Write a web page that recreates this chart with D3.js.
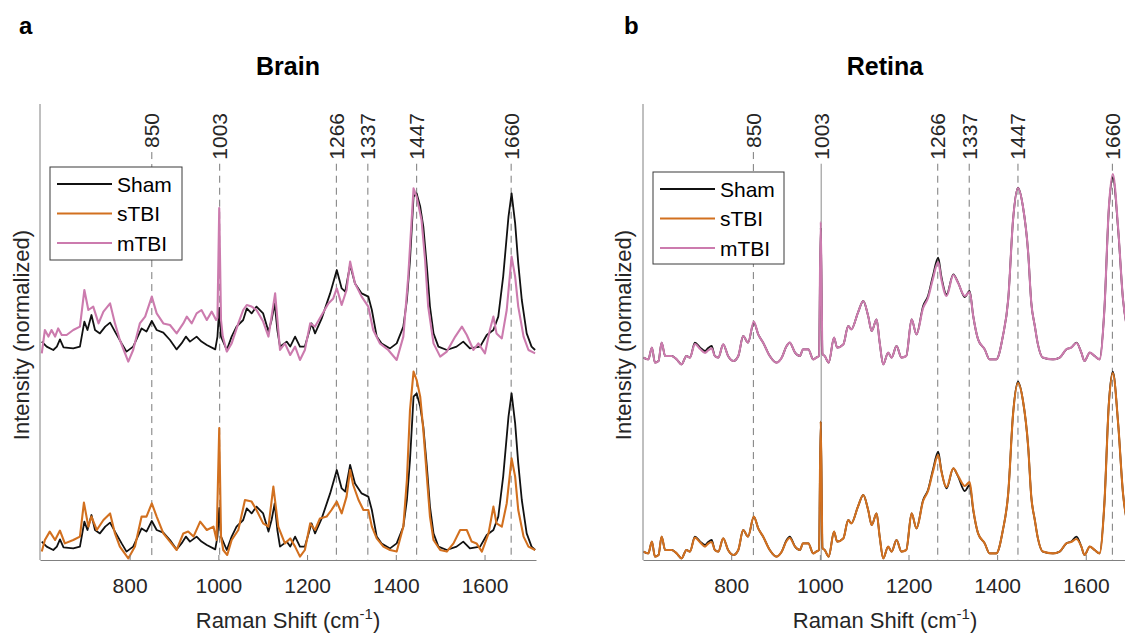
<!DOCTYPE html>
<html>
<head>
<meta charset="utf-8">
<script src="https://cdn.jsdelivr.net/npm/d3@7"></script>
<style>
  html, body { margin: 0; padding: 0; background: #fff; }
  svg { display: block; font-family: "Liberation Sans", Arial, Helvetica, sans-serif; }
</style>
</head>
<body>
<svg id="fig" width="1125" height="633"></svg>
<script>
// Raman shift (cm^-1) and normalized intensity, one [shift, intensity] pair per point.
const brainSham = [[602,0.092],[613,0.067],[628,0.05],[636,0.067],[643,0.103],[651,0.063],[673,0.058],[688,0.067],[698,0.192],[705,0.15],[714,0.225],[722,0.15],[733,0.133],[745,0.167],[756,0.187],[767,0.142],[782,0.083],[793,0.042],[808,0.067],[827,0.158],[838,0.142],[850,0.195],[861,0.15],[876,0.137],[891,0.1],[906,0.053],[917,0.083],[927,0.117],[936,0.092],[951,0.117],[962,0.092],[974,0.075],[993,0.053],[998,0.117],[1002,0.26],[1006,0.117],[1019,0.05],[1030,0.117],[1041,0.167],[1056,0.2],[1064,0.258],[1075,0.233],[1086,0.267],[1101,0.233],[1113,0.142],[1120,0.2],[1127,0.283],[1133,0.15],[1139,0.067],[1154,0.092],[1162,0.067],[1173,0.117],[1184,0.067],[1195,0.067],[1210,0.183],[1218,0.133],[1233,0.208],[1252,0.333],[1267,0.45],[1278,0.358],[1286,0.342],[1297,0.475],[1308,0.383],[1323,0.333],[1338,0.317],[1346,0.25],[1357,0.117],[1368,0.083],[1387,0.058],[1402,0.083],[1417,0.167],[1425,0.3],[1432,0.5],[1440,0.817],[1447,0.833],[1455,0.767],[1462,0.667],[1470,0.467],[1477,0.267],[1485,0.133],[1496,0.067],[1515,0.05],[1537,0.067],[1552,0.092],[1567,0.058],[1590,0.067],[1605,0.125],[1620,0.15],[1631,0.217],[1642,0.417],[1654,0.717],[1661,0.833],[1669,0.683],[1676,0.483],[1684,0.3],[1695,0.133],[1706,0.067],[1714,0.05]];

const brainMTBI = [[602,0.033],[609,0.15],[617,0.117],[624,0.15],[632,0.117],[639,0.158],[647,0.125],[658,0.125],[673,0.15],[688,0.167],[698,0.35],[707,0.25],[718,0.267],[730,0.183],[741,0.242],[756,0.283],[767,0.183],[778,0.1],[797,-0.008],[808,0.05],[823,0.183],[835,0.217],[850,0.317],[861,0.233],[876,0.183],[891,0.175],[906,0.133],[921,0.183],[929,0.217],[940,0.183],[951,0.233],[962,0.25],[974,0.2],[985,0.242],[995,0.2],[998,0.21],[1002,0.76],[1006,0.2],[1010,0.117],[1019,0.042],[1030,0.083],[1045,0.183],[1056,0.25],[1064,0.275],[1075,0.267],[1086,0.25],[1101,0.192],[1113,0.117],[1128,0.333],[1139,0.05],[1150,0.083],[1162,0.025],[1173,0.067],[1184,0.0],[1195,0.05],[1207,0.183],[1218,0.167],[1233,0.225],[1248,0.283],[1259,0.308],[1267,0.358],[1278,0.275],[1289,0.35],[1297,0.492],[1308,0.383],[1323,0.317],[1338,0.267],[1349,0.15],[1364,0.083],[1383,0.05],[1402,0.0],[1417,0.117],[1428,0.417],[1440,0.858],[1447,0.817],[1458,0.7],[1466,0.5],[1473,0.267],[1485,0.083],[1500,0.017],[1515,0.042],[1534,0.117],[1549,0.167],[1560,0.125],[1575,0.05],[1586,0.083],[1601,0.033],[1612,0.15],[1620,0.217],[1627,0.133],[1639,0.108],[1650,0.25],[1661,0.517],[1669,0.417],[1676,0.267],[1688,0.117],[1699,0.05],[1714,0.033]];

const brainSTBI = [[602,0.042],[609,0.1],[620,0.142],[632,0.1],[643,0.147],[654,0.083],[673,0.1],[688,0.117],[697,0.287],[707,0.167],[714,0.217],[726,0.15],[741,0.2],[756,0.233],[767,0.133],[778,0.067],[797,0.008],[812,0.067],[827,0.217],[838,0.217],[850,0.283],[861,0.217],[876,0.133],[891,0.092],[906,0.05],[921,0.133],[932,0.142],[944,0.117],[959,0.192],[974,0.15],[989,0.167],[996,0.1],[1002,0.66],[1006,0.12],[1011,0.05],[1020,0.025],[1030,0.1],[1045,0.15],[1060,0.3],[1075,0.292],[1086,0.25],[1101,0.183],[1113,0.167],[1124,0.367],[1135,0.167],[1150,0.083],[1162,0.108],[1173,0.067],[1184,0.017],[1195,0.05],[1207,0.183],[1218,0.15],[1229,0.208],[1244,0.217],[1255,0.25],[1267,0.292],[1278,0.233],[1289,0.317],[1297,0.45],[1304,0.375],[1316,0.3],[1327,0.25],[1338,0.25],[1346,0.167],[1357,0.108],[1372,0.067],[1387,0.05],[1402,0.042],[1417,0.167],[1425,0.4],[1432,0.75],[1440,0.942],[1447,0.9],[1455,0.817],[1462,0.65],[1470,0.417],[1477,0.217],[1485,0.1],[1500,0.05],[1515,0.042],[1530,0.083],[1545,0.15],[1560,0.15],[1571,0.092],[1582,0.083],[1594,0.042],[1609,0.133],[1620,0.267],[1627,0.183],[1639,0.167],[1650,0.283],[1661,0.508],[1669,0.417],[1676,0.25],[1688,0.117],[1699,0.067],[1714,0.05]];

const retinaSham = [[602,0.042],[613,0.033],[621,0.092],[628,0.017],[636,0.025],[643,0.117],[651,0.05],[666,0.05],[677,0.033],[688,0.008],[699,0.05],[707,0.042],[718,0.117],[730,0.092],[741,0.075],[748,0.09],[756,0.1],[763,0.05],[771,0.042],[782,0.108],[793,0.05],[805,0.025],[816,0.05],[827,0.15],[838,0.117],[851,0.217],[861,0.158],[872,0.117],[887,0.05],[902,0.017],[914,0.042],[925,0.1],[932,0.117],[944,0.067],[955,0.05],[962,0.083],[974,0.083],[985,0.033],[992,0.042],[998,0.05],[1002,0.692],[1006,0.06],[1011,0.05],[1020,0.017],[1032,0.142],[1039,0.092],[1053,0.108],[1064,0.2],[1071,0.183],[1086,0.267],[1098,0.325],[1109,0.25],[1117,0.175],[1128,0.233],[1135,0.117],[1143,0.008],[1154,0.067],[1162,0.042],[1173,0.1],[1184,0.042],[1195,0.05],[1207,0.233],[1218,0.158],[1233,0.3],[1244,0.35],[1255,0.45],[1267,0.542],[1274,0.45],[1286,0.358],[1301,0.458],[1312,0.417],[1327,0.345],[1338,0.375],[1346,0.25],[1357,0.133],[1372,0.083],[1383,0.033],[1398,0.033],[1413,0.15],[1425,0.333],[1436,0.733],[1447,0.892],[1458,0.8],[1470,0.567],[1477,0.317],[1485,0.2],[1492,0.108],[1503,0.042],[1526,0.033],[1541,0.042],[1556,0.083],[1567,0.092],[1579,0.117],[1590,0.067],[1597,0.025],[1609,0.067],[1620,0.05],[1631,0.033],[1642,0.283],[1652,0.783],[1661,0.942],[1673,0.683],[1684,0.333],[1695,0.17],[1705,0.1],[1716,0.07]];

const retinaMTBI = [[602,0.042],[613,0.033],[621,0.092],[628,0.017],[636,0.025],[643,0.117],[651,0.05],[666,0.05],[677,0.033],[688,0.008],[699,0.05],[707,0.042],[718,0.11],[730,0.085],[741,0.065],[748,0.078],[756,0.088],[763,0.05],[771,0.042],[782,0.108],[793,0.05],[805,0.025],[816,0.05],[827,0.15],[838,0.117],[851,0.222],[861,0.158],[872,0.117],[887,0.05],[902,0.017],[914,0.042],[925,0.1],[932,0.117],[944,0.067],[955,0.05],[962,0.083],[974,0.083],[985,0.033],[992,0.042],[998,0.05],[1002,0.72],[1006,0.06],[1011,0.05],[1020,0.017],[1032,0.142],[1039,0.092],[1053,0.108],[1064,0.2],[1071,0.183],[1086,0.267],[1098,0.325],[1109,0.25],[1117,0.175],[1128,0.233],[1135,0.117],[1143,0.008],[1154,0.067],[1162,0.042],[1173,0.1],[1184,0.042],[1195,0.05],[1207,0.233],[1218,0.158],[1233,0.29],[1244,0.34],[1255,0.435],[1267,0.52],[1274,0.435],[1286,0.35],[1301,0.455],[1312,0.415],[1327,0.35],[1338,0.37],[1346,0.25],[1357,0.133],[1372,0.083],[1383,0.033],[1398,0.033],[1413,0.15],[1425,0.333],[1436,0.733],[1447,0.89],[1458,0.8],[1470,0.567],[1477,0.317],[1485,0.2],[1492,0.108],[1503,0.042],[1526,0.033],[1541,0.042],[1556,0.083],[1567,0.092],[1579,0.115],[1590,0.067],[1597,0.025],[1609,0.067],[1620,0.05],[1631,0.033],[1642,0.283],[1652,0.79],[1661,0.96],[1673,0.69],[1684,0.333],[1695,0.17],[1705,0.1],[1716,0.07]];

const retinaSTBI = [[602,0.042],[613,0.033],[621,0.092],[628,0.017],[636,0.025],[643,0.117],[651,0.05],[666,0.05],[677,0.033],[688,0.008],[699,0.05],[707,0.042],[718,0.112],[730,0.088],[741,0.067],[748,0.082],[756,0.09],[763,0.05],[771,0.042],[782,0.108],[793,0.05],[805,0.025],[816,0.05],[827,0.15],[838,0.117],[851,0.217],[861,0.158],[872,0.117],[887,0.05],[902,0.017],[914,0.042],[925,0.095],[932,0.11],[944,0.067],[955,0.05],[962,0.083],[974,0.083],[985,0.033],[992,0.042],[998,0.05],[1002,0.692],[1006,0.06],[1011,0.05],[1020,0.017],[1032,0.142],[1039,0.092],[1053,0.108],[1064,0.2],[1071,0.183],[1086,0.267],[1098,0.325],[1109,0.25],[1117,0.175],[1128,0.233],[1135,0.117],[1143,0.008],[1154,0.067],[1162,0.042],[1173,0.1],[1184,0.042],[1195,0.05],[1207,0.233],[1218,0.158],[1233,0.295],[1244,0.345],[1255,0.44],[1267,0.525],[1274,0.445],[1286,0.365],[1301,0.458],[1312,0.42],[1327,0.37],[1338,0.39],[1346,0.255],[1357,0.133],[1372,0.083],[1383,0.033],[1398,0.033],[1413,0.15],[1425,0.333],[1436,0.73],[1447,0.885],[1458,0.8],[1470,0.567],[1477,0.317],[1485,0.2],[1492,0.108],[1503,0.042],[1526,0.033],[1541,0.042],[1556,0.083],[1567,0.09],[1579,0.105],[1590,0.067],[1597,0.025],[1609,0.067],[1620,0.05],[1631,0.033],[1642,0.283],[1652,0.775],[1661,0.935],[1673,0.683],[1684,0.333],[1695,0.17],[1705,0.1],[1716,0.07]];

// Band positions marked with vertical reference lines
const peakShifts = [850, 1003, 1266, 1337, 1447, 1660];
const peakLabels = ["850", "1003", "1266", "1337", "1447", "1660"];
const shiftTicks = [800, 1000, 1200, 1400, 1600];
const groupNames = ["Sham", "sTBI", "mTBI"];
const groupColors = { Sham: "#111111", sTBI: "#d2701f", mTBI: "#cc7bae" };

const svg = d3.select("#fig");
const plotTop = 104, plotBottom = 560;
const y = d3.scaleLinear().domain([0, (plotBottom - plotTop) / 200]).range([plotBottom, plotTop]);

const panels = [
  { id: "brain", letter: "a", letterX: 19, title: "Brain", left: 40, right: 536, domain: [598, 1716],
    offset: 1.0, sham: brainSham, stbi: brainSTBI, mtbi: brainMTBI, curve: d3.curveLinear,
    solidPeaks: [], legend: { x: 50, y: 167, w: 132, h: 93 }, yLabelX: 29 },
  { id: "retina", letter: "b", letterX: 624, title: "Retina", left: 643, right: 1127, domain: [601, 1693],
    offset: 0.97, sham: retinaSham, stbi: retinaSTBI, mtbi: retinaMTBI, curve: d3.curveMonotoneX,
    solidPeaks: [1003], legend: { x: 653, y: 172, w: 131, h: 92 }, yLabelX: 631 }
];

const defs = svg.append("defs");

panels.forEach(p => {
  const x = d3.scaleLinear().domain(p.domain).range([p.left, p.right]);
  const g = svg.append("g").attr("class", "panel-" + p.id);

  defs.append("clipPath").attr("id", "clip-" + p.id)
    .append("rect").attr("x", p.left).attr("y", plotTop)
    .attr("width", Math.min(p.right, 1125) - p.left).attr("height", plotBottom - plotTop);

  // panel letter and title
  g.append("text").attr("x", p.letterX).attr("y", 34)
    .attr("font-size", 24).attr("font-weight", "bold").attr("fill", "#000").text(p.letter);
  g.append("text").attr("x", (p.left + p.right) / 2).attr("y", 75)
    .attr("text-anchor", "middle").attr("font-size", 25).attr("font-weight", "bold")
    .attr("fill", "#000").text(p.title);

  // band reference lines with their labels on top
  const peaks = g.append("g");
  peakShifts.forEach((s, i) => {
    const px = x(s);
    const lbl = peaks.append("text")
      .attr("transform", `translate(${px + 7.5},113) rotate(-90)`)
      .attr("text-anchor", "end").attr("font-size", 21).attr("fill", "#262626")
      .text(peakLabels[i]);
    const len = lbl.node().getComputedTextLength();
    const solid = p.solidPeaks.includes(s);
    peaks.append("line")
      .attr("x1", px).attr("x2", px)
      .attr("y1", 113 + len + 4).attr("y2", plotBottom)
      .attr("stroke", solid ? "#8a8a8a" : "#7a7a7a")
      .attr("stroke-width", 1)
      .attr("stroke-dasharray", solid ? null : "7,5");
  });

  // spectra: upper stack is Sham vs mTBI, lower stack is Sham vs sTBI
  const line = off => d3.line().curve(p.curve)
    .x(d => x(d[0])).y(d => y(d[1] + off));
  const spectra = g.append("g").attr("clip-path", `url(#clip-${p.id})`)
    .attr("fill", "none").attr("stroke-linejoin", "round");
  spectra.append("path").datum(p.sham).attr("d", line(p.offset))
    .attr("stroke", groupColors.Sham).attr("stroke-width", 1.8);
  spectra.append("path").datum(p.mtbi).attr("d", line(p.offset))
    .attr("stroke", groupColors.mTBI).attr("stroke-width", 2.1);
  spectra.append("path").datum(p.sham).attr("d", line(0))
    .attr("stroke", groupColors.Sham).attr("stroke-width", 1.8);
  spectra.append("path").datum(p.stbi).attr("d", line(0))
    .attr("stroke", groupColors.sTBI).attr("stroke-width", 2.1);

  // axes
  g.append("line").attr("x1", p.left).attr("x2", p.left)
    .attr("y1", plotTop).attr("y2", plotBottom)
    .attr("stroke", "#808080").attr("stroke-width", 1);
  const xAxis = d3.axisBottom(x).tickValues(shiftTicks)
    .tickSizeInner(-5).tickSizeOuter(0).tickPadding(18).tickFormat(d3.format("d"));
  const ax = g.append("g").attr("transform", `translate(0,${plotBottom})`).call(xAxis);
  ax.select(".domain").attr("stroke", "#808080");
  ax.selectAll(".tick line").attr("stroke", "#808080");
  ax.selectAll(".tick text").attr("font-size", 21).attr("fill", "#262626")
    .attr("font-family", "Liberation Sans, Arial, Helvetica, sans-serif");

  // axis titles
  const xl = g.append("text").attr("x", (p.left + p.right) / 2).attr("y", 628)
    .attr("text-anchor", "middle").attr("font-size", 22).attr("fill", "#262626");
  xl.append("tspan").text("Raman Shift (cm");
  xl.append("tspan").attr("font-size", 15).attr("dy", -9).text("-1");
  xl.append("tspan").attr("dy", 9).text(")");

  g.append("text").attr("transform", `translate(${p.yLabelX},335) rotate(-90)`)
    .attr("text-anchor", "middle").attr("font-size", 22).attr("fill", "#262626")
    .text("Intensity (normalized)");

  // legend
  const L = p.legend;
  const lg = g.append("g");
  lg.append("rect").attr("x", L.x).attr("y", L.y).attr("width", L.w).attr("height", L.h)
    .attr("fill", "#fff").attr("stroke", "#3a3a3a").attr("stroke-width", 1);
  groupNames.forEach((name, i) => {
    const cy = L.y + 17 + i * 29.5;
    lg.append("line").attr("x1", L.x + 7).attr("x2", L.x + 62)
      .attr("y1", cy).attr("y2", cy)
      .attr("stroke", groupColors[name]).attr("stroke-width", 2);
    lg.append("text").attr("x", L.x + 67).attr("y", cy + 7.5)
      .attr("font-size", 21).attr("fill", "#000").text(name);
  });
});
</script>
</body>
</html>
